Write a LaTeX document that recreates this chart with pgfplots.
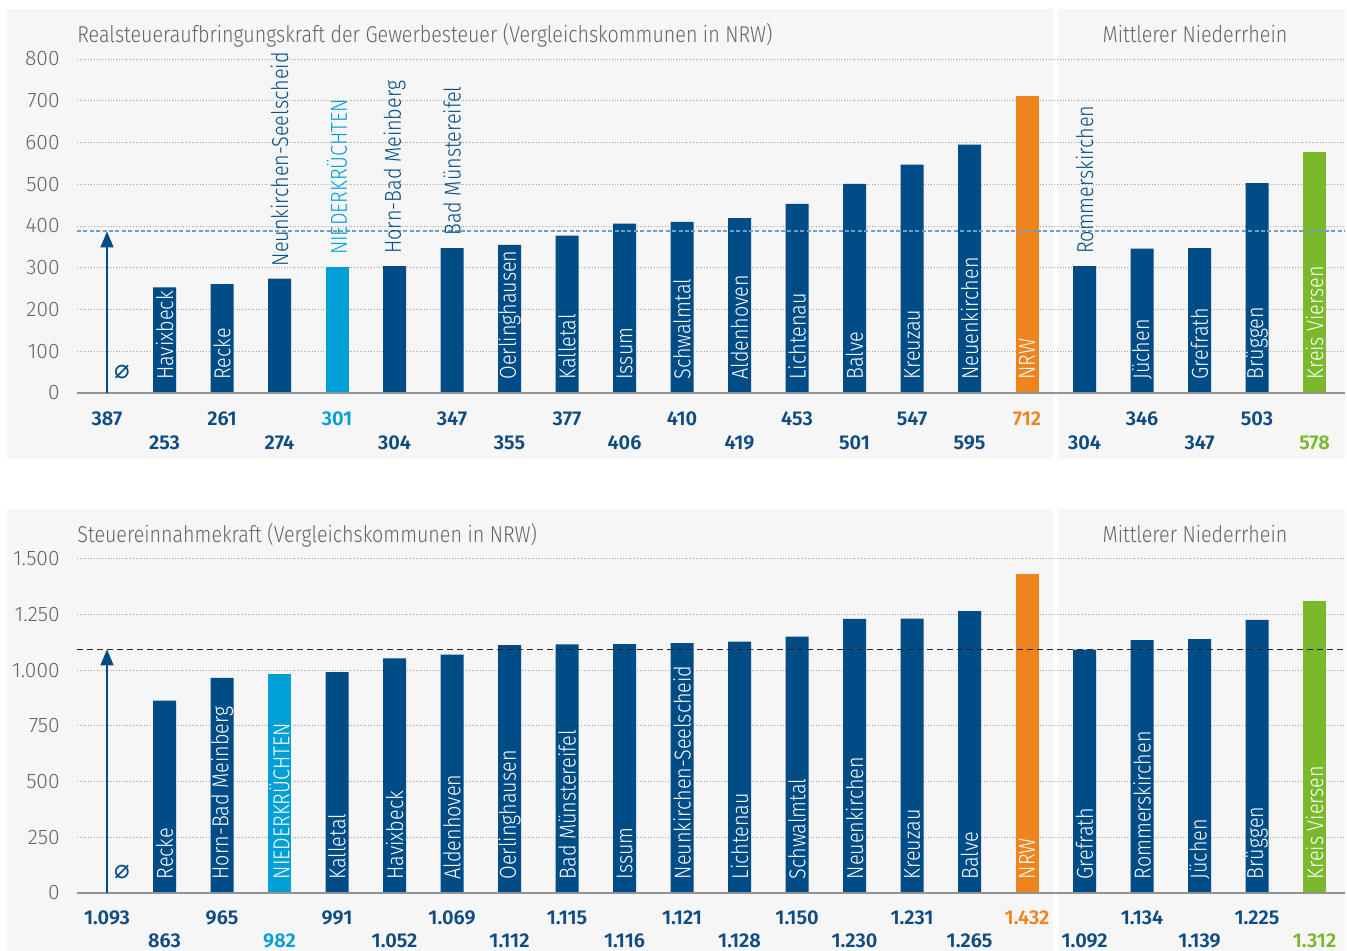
\documentclass[border=0pt]{standalone}
\usepackage{fontspec}
\setmainfont{Fira Sans Light}[FakeStretch=0.86, BoldFont={Fira Sans SemiBold}]
\newfontfamily\numfont{Fira Sans Light}[BoldFont={Fira Sans SemiBold}]
\newfontfamily\symfont{DejaVu Sans}
\usepackage{pgfplots}
\pgfplotsset{compat=1.18}
\usetikzlibrary{arrows.meta}
\definecolor{bg}{RGB}{246,246,246}
\definecolor{dblue}{RGB}{0,76,135}
\definecolor{lblue}{RGB}{0,160,214}
\definecolor{orng}{RGB}{238,132,30}
\definecolor{grn}{RGB}{122,184,44}
\definecolor{txtgray}{RGB}{100,100,100}
\definecolor{valblue}{RGB}{16,76,132}
\definecolor{avgline}{RGB}{112,158,205}
\pgfplotsset{
  panel/.style={scale only axis, width=634pt, height=167pt, xmin=-0.522, xmax=21.53, ymin=0,
    axis line style={draw=none}, xtick=\empty, major tick length=0pt,
    ymajorgrids, major grid style={densely dotted, line width=0.5pt, color=gray!70},
    yticklabel style={font=\numfont\fontsize{10.5}{12}\selectfont, text=txtgray, anchor=east, inner sep=0pt, xshift=-8.5pt},
    clip=false, bar width=11.5pt, anchor=south west},
  bars/.style={ybar, draw=none, fill=#1, bar shift=0pt},
}
\tikzset{
  inl/.style={rotate=90, anchor=west, inner sep=0pt, text=white, font=\fontsize{11.5}{12}\selectfont},
  abl/.style={rotate=90, anchor=west, inner sep=0pt, text=#1, font=\fontsize{11.5}{12}\selectfont},
  val/.style={anchor=base, inner sep=0pt, text=#1, font=\numfont\bfseries\fontsize{10}{11}\selectfont},
  ttl/.style={inner sep=0pt, text=txtgray, font=\fontsize{11.45}{12}\selectfont},
}
\begin{document}
\begin{tikzpicture}
% backgrounds (pixel -> 0.5pt)
\fill[white] (0pt,0pt) rectangle (673.5pt,-475.5pt);
\fill[bg] (3.5pt,-4.5pt) rectangle (526.5pt,-229.5pt);
\fill[bg] (529pt,-4.5pt) rectangle (672.5pt,-229.5pt);
\fill[bg] (3.5pt,-254.5pt) rectangle (526.5pt,-475.5pt);
\fill[bg] (529pt,-254.5pt) rectangle (672.5pt,-475.5pt);
\node[ttl, anchor=base west] at (38.5pt,-21.2pt) {Realsteueraufbringungskraft der Gewerbesteuer (Vergleichskommunen in NRW)};
\node[ttl, anchor=base] at (597.5pt,-21.2pt) {Mittlerer Niederrhein};
\node[ttl, anchor=base west] at (38.5pt,-271.3pt) {Steuereinnahmekraft (Vergleichskommunen in NRW)};
\node[ttl, anchor=base] at (597.5pt,-271.3pt) {Mittlerer Niederrhein};

% ---------------- top panel ----------------
\begin{axis}[panel, at={(38.5pt,-196.5pt)}, ymax=800, ytick={0,100,...,800},
  yticklabels={0,100,200,300,400,500,600,700,800}]
\addplot[bars=dblue] coordinates {(1,253)(2,261)(3,274)(5,304)(6,347)(7,355)(8,377)(9,406)(10,410)(11,419)(12,453)(13,501)(14,547)(15,595)(17,304)(18,346)(19,347)(20,503)};
\addplot[bars=lblue] coordinates {(4,301)};
\addplot[bars=orng] coordinates {(16,712)};
\addplot[bars=grn] coordinates {(21,578)};
\addplot[avgline, dash pattern=on 2pt off 1.2pt, line width=1pt] coordinates {(-0.522,387) (21.53,387)};
\addplot[gray!85, line width=1pt] coordinates {(-0.522,0) (21.53,0)};
\addplot[dblue, line width=0.7pt, -{Triangle[width=6.5pt,length=8pt]}] coordinates {(0,0) (0,387)};
\node[text=dblue, inner sep=0pt, font=\symfont\fontsize{13}{14}\selectfont] at ([xshift=7.5pt,yshift=10.5pt]axis cs:0,0) {⌀};
% labels inside
\node[inl] at ([yshift=6.5pt]axis cs:1,0) {Havixbeck};
\node[inl] at ([yshift=6.5pt]axis cs:2,0) {Recke};
\node[inl] at ([yshift=6.5pt]axis cs:7,0) {Oerlinghausen};
\node[inl] at ([yshift=6.5pt]axis cs:8,0) {Kalletal};
\node[inl] at ([yshift=6.5pt]axis cs:9,0) {Issum};
\node[inl] at ([yshift=6.5pt]axis cs:10,0) {Schwalmtal};
\node[inl] at ([yshift=6.5pt]axis cs:11,0) {Aldenhoven};
\node[inl] at ([yshift=6.5pt]axis cs:12,0) {Lichtenau};
\node[inl] at ([yshift=6.5pt]axis cs:13,0) {Balve};
\node[inl] at ([yshift=6.5pt]axis cs:14,0) {Kreuzau};
\node[inl] at ([yshift=6.5pt]axis cs:15,0) {Neuenkirchen};
\node[inl] at ([yshift=6.5pt]axis cs:16,0) {NRW};
\node[inl] at ([yshift=6.5pt]axis cs:18,0) {Jüchen};
\node[inl] at ([yshift=6.5pt]axis cs:19,0) {Grefrath};
\node[inl] at ([yshift=6.5pt]axis cs:20,0) {Brüggen};
\node[inl] at ([yshift=6.5pt]axis cs:21,0) {Kreis Viersen};
% labels above
\node[abl=dblue] at ([yshift=6pt]axis cs:3,274) {Neunkirchen-Seelscheid};
\node[abl=lblue] at ([yshift=6pt]axis cs:4,301) {NIEDERKRÜCHTEN};
\node[abl=dblue] at ([yshift=6pt]axis cs:5,304) {Horn-Bad Meinberg};
\node[abl=dblue] at ([yshift=6pt]axis cs:6,347) {Bad Münstereifel};
\node[abl=dblue] at ([yshift=6pt]axis cs:17,304) {Rommerskirchen};
% values
\node[val=valblue] at ([yshift=-16pt]axis cs:0,0) {387};
\node[val=valblue] at ([yshift=-28pt]axis cs:1,0) {253};
\node[val=valblue] at ([yshift=-16pt]axis cs:2,0) {261};
\node[val=valblue] at ([yshift=-28pt]axis cs:3,0) {274};
\node[val=lblue] at ([yshift=-16pt]axis cs:4,0) {301};
\node[val=valblue] at ([yshift=-28pt]axis cs:5,0) {304};
\node[val=valblue] at ([yshift=-16pt]axis cs:6,0) {347};
\node[val=valblue] at ([yshift=-28pt]axis cs:7,0) {355};
\node[val=valblue] at ([yshift=-16pt]axis cs:8,0) {377};
\node[val=valblue] at ([yshift=-28pt]axis cs:9,0) {406};
\node[val=valblue] at ([yshift=-16pt]axis cs:10,0) {410};
\node[val=valblue] at ([yshift=-28pt]axis cs:11,0) {419};
\node[val=valblue] at ([yshift=-16pt]axis cs:12,0) {453};
\node[val=valblue] at ([yshift=-28pt]axis cs:13,0) {501};
\node[val=valblue] at ([yshift=-16pt]axis cs:14,0) {547};
\node[val=valblue] at ([yshift=-28pt]axis cs:15,0) {595};
\node[val=orng] at ([yshift=-16pt]axis cs:16,0) {712};
\node[val=valblue] at ([yshift=-28pt]axis cs:17,0) {304};
\node[val=valblue] at ([yshift=-16pt]axis cs:18,0) {346};
\node[val=valblue] at ([yshift=-28pt]axis cs:19,0) {347};
\node[val=valblue] at ([yshift=-16pt]axis cs:20,0) {503};
\node[val=grn] at ([yshift=-28pt]axis cs:21,0) {578};
\end{axis}

% ---------------- bottom panel ----------------
\begin{axis}[panel, at={(38.5pt,-446.35pt)}, ymax=1500, ytick={0,250,...,1500},
  yticklabels={0,250,500,750,1.000,1.250,1.500}]
\addplot[bars=dblue] coordinates {(1,863)(2,965)(4,991)(5,1052)(6,1069)(7,1112)(8,1115)(9,1116)(10,1121)(11,1128)(12,1150)(13,1230)(14,1231)(15,1265)(17,1092)(18,1134)(19,1139)(20,1225)};
\addplot[bars=lblue] coordinates {(3,982)};
\addplot[bars=orng] coordinates {(16,1432)};
\addplot[bars=grn] coordinates {(21,1312)};
\addplot[black!85, dash pattern=on 3pt off 2pt, line width=0.6pt] coordinates {(-0.522,1093) (21.53,1093)};
\addplot[gray!85, line width=1pt] coordinates {(-0.522,0) (21.53,0)};
\addplot[dblue, line width=0.7pt, -{Triangle[width=6.5pt,length=8pt]}] coordinates {(0,0) (0,1093)};
\node[text=dblue, inner sep=0pt, font=\symfont\fontsize{13}{14}\selectfont] at ([xshift=7.5pt,yshift=10.5pt]axis cs:0,0) {⌀};
\node[inl] at ([yshift=6.5pt]axis cs:1,0) {Recke};
\node[inl] at ([yshift=6.5pt]axis cs:2,0) {Horn-Bad Meinberg};
\node[inl] at ([yshift=6.5pt]axis cs:3,0) {NIEDERKRÜCHTEN};
\node[inl] at ([yshift=6.5pt]axis cs:4,0) {Kalletal};
\node[inl] at ([yshift=6.5pt]axis cs:5,0) {Havixbeck};
\node[inl] at ([yshift=6.5pt]axis cs:6,0) {Aldenhoven};
\node[inl] at ([yshift=6.5pt]axis cs:7,0) {Oerlinghausen};
\node[inl] at ([yshift=6.5pt]axis cs:8,0) {Bad Münstereifel};
\node[inl] at ([yshift=6.5pt]axis cs:9,0) {Issum};
\node[inl] at ([yshift=6.5pt]axis cs:10,0) {Neunkirchen-Seelscheid};
\node[inl] at ([yshift=6.5pt]axis cs:11,0) {Lichtenau};
\node[inl] at ([yshift=6.5pt]axis cs:12,0) {Schwalmtal};
\node[inl] at ([yshift=6.5pt]axis cs:13,0) {Neuenkirchen};
\node[inl] at ([yshift=6.5pt]axis cs:14,0) {Kreuzau};
\node[inl] at ([yshift=6.5pt]axis cs:15,0) {Balve};
\node[inl] at ([yshift=6.5pt]axis cs:16,0) {NRW};
\node[inl] at ([yshift=6.5pt]axis cs:17,0) {Grefrath};
\node[inl] at ([yshift=6.5pt]axis cs:18,0) {Rommerskirchen};
\node[inl] at ([yshift=6.5pt]axis cs:19,0) {Jüchen};
\node[inl] at ([yshift=6.5pt]axis cs:20,0) {Brüggen};
\node[inl] at ([yshift=6.5pt]axis cs:21,0) {Kreis Viersen};
\node[val=valblue] at ([yshift=-16pt]axis cs:0,0) {1.093};
\node[val=valblue] at ([yshift=-27.3pt]axis cs:1,0) {863};
\node[val=valblue] at ([yshift=-16pt]axis cs:2,0) {965};
\node[val=lblue] at ([yshift=-27.3pt]axis cs:3,0) {982};
\node[val=valblue] at ([yshift=-16pt]axis cs:4,0) {991};
\node[val=valblue] at ([yshift=-27.3pt]axis cs:5,0) {1.052};
\node[val=valblue] at ([yshift=-16pt]axis cs:6,0) {1.069};
\node[val=valblue] at ([yshift=-27.3pt]axis cs:7,0) {1.112};
\node[val=valblue] at ([yshift=-16pt]axis cs:8,0) {1.115};
\node[val=valblue] at ([yshift=-27.3pt]axis cs:9,0) {1.116};
\node[val=valblue] at ([yshift=-16pt]axis cs:10,0) {1.121};
\node[val=valblue] at ([yshift=-27.3pt]axis cs:11,0) {1.128};
\node[val=valblue] at ([yshift=-16pt]axis cs:12,0) {1.150};
\node[val=valblue] at ([yshift=-27.3pt]axis cs:13,0) {1.230};
\node[val=valblue] at ([yshift=-16pt]axis cs:14,0) {1.231};
\node[val=valblue] at ([yshift=-27.3pt]axis cs:15,0) {1.265};
\node[val=orng] at ([yshift=-16pt]axis cs:16,0) {1.432};
\node[val=valblue] at ([yshift=-27.3pt]axis cs:17,0) {1.092};
\node[val=valblue] at ([yshift=-16pt]axis cs:18,0) {1.134};
\node[val=valblue] at ([yshift=-27.3pt]axis cs:19,0) {1.139};
\node[val=valblue] at ([yshift=-16pt]axis cs:20,0) {1.225};
\node[val=grn] at ([yshift=-27.3pt]axis cs:21,0) {1.312};
\end{axis}
\end{tikzpicture}
\end{document}
